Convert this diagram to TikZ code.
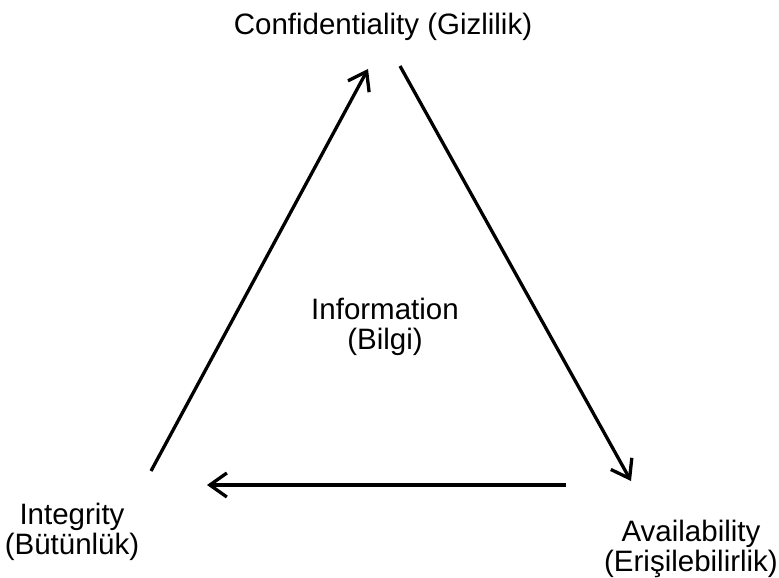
\documentclass[tikz,border=0pt]{standalone}
\usepackage{fontspec}
\setmainfont{Liberation Sans}
\usetikzlibrary{arrows.meta}

\tikzset{
  lbl/.style={font=\fontsize{29.5}{30}\selectfont, align=center, anchor=base, inner sep=0pt},
  side/.style={line width=3.3pt, -{Straight Barb[length=17pt, width=24pt, line width=3.3pt]}}
}

\begin{document}
\begin{tikzpicture}[x=1pt, y=-1pt]
    \useasboundingbox (0,0) rectangle (779,578);

    \node[lbl] (conf) at (383, 35) {Confidentiality (Gizlilik)};
    \node[lbl] (info) at (385, 349) {Information\\(Bilgi)};
    \node[lbl] (integ) at (72, 554) {Integrity\\(Bütünlük)};
    \node[lbl] (avail) at (691, 571) {Availability\\(Erişilebilirlik)};

    % ends of the three sides
    \coordinate (il) at (151, 471);
    \coordinate (ct) at (368, 69);
    \coordinate (cr) at (400, 66);
    \coordinate (ab) at (631, 481);
    \coordinate (ar) at (566, 485);
    \coordinate (it) at (207, 485);

    \draw[side] (il) -- (ct);
    \draw[side] (cr) -- (ab);
    \draw[side] (ar) -- (it);
\end{tikzpicture}
\end{document}
